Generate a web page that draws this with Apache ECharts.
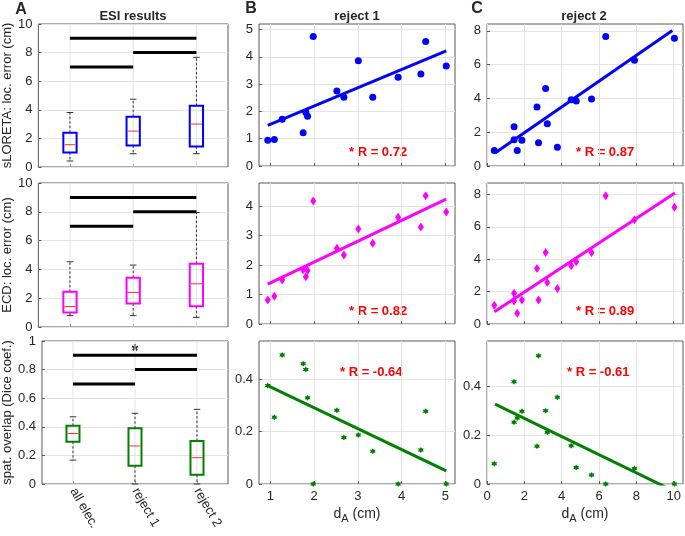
<!DOCTYPE html>
<html><head><meta charset="utf-8">
<script src="https://cdn.jsdelivr.net/npm/echarts@6/dist/echarts.min.js"></script>
<style>html,body{margin:0;padding:0;background:#fff}#c{width:685px;height:536px}</style>
</head><body><div id="c"></div>
<script>
// ---------- data ----------
const categories = ['all elec.', 'reject 1', 'reject 2'];
// box stats: [min, q1, median, q3, max]
const boxSLORETA = [[0.42,1.02,1.56,2.40,3.81],[0.93,1.51,2.51,3.51,4.74],[0.93,1.44,3.00,4.28,7.67]];
const boxECD     = [[0.79,1.00,1.42,2.44,4.53],[0.79,1.63,2.40,3.42,4.30],[0.67,1.44,3.00,4.40,7.95]];
const boxDice    = [[0.167,0.296,0.353,0.407,0.470],[0,0.127,0.266,0.390,0.494],[0,0.064,0.184,0.300,0.522]];
// significance bars: [from category, to category, level]
const sigLoc  = [[0,1,7],[1,2,8],[0,2,9]];
const sigDice = [[0,1,0.7],[1,2,0.8],[0,2,0.9]];

const dA_rej1 = [0.94,1.09,1.27,1.75,1.81,1.85,1.98,2.52,2.68,3.01,3.34,3.92,4.44,4.55,5.02];
const slor_rej1 = [0.94,0.97,1.71,1.22,1.96,1.82,4.74,2.75,2.52,3.85,2.52,3.25,3.37,4.56,3.66];
const ecd_rej1  = [0.81,0.94,1.49,1.84,1.60,1.81,4.17,2.57,2.34,3.22,2.74,3.62,3.29,4.35,3.80];
const dice_rej1 = [0.376,0.255,0.493,0.459,0.437,0.329,0,0.282,0.178,0.187,0.125,0,0.130,0.278,0];

const dA_rej2 = [0.39,1.45,1.45,1.62,1.87,2.68,2.76,3.14,3.23,3.77,4.51,4.78,5.60,6.36,7.90,10.04];
const slor_rej2 = [0.91,2.32,1.56,0.91,1.52,3.49,1.37,4.59,2.50,1.11,3.92,3.84,3.96,7.66,6.26,7.56];
const ecd_rej2  = [1.15,1.89,1.42,0.66,1.48,3.43,1.48,4.41,2.56,2.19,3.59,3.84,4.41,7.92,6.44,7.20];
const dice_rej2 = [0.083,0.418,0.253,0.270,0.298,0.154,0.525,0.300,0.212,0.355,0.156,0.068,0.037,0,0.063,0];

// regression line endpoints [[x1,y1],[x2,y2]]
const fit_slor_rej1 = [[0.94,1.49],[5.02,4.22]];
const fit_ecd_rej1  = [[0.94,1.35],[5.02,4.23]];
const fit_dice_rej1 = [[0.94,0.376],[5.02,0.05]];
const fit_slor_rej2 = [[0.43,0.77],[9.93,8.02]];
const fit_ecd_rej2  = [[0.40,0.76],[10.07,8.08]];
const fit_dice_rej2 = [[0.43,0.327],[10.04,-0.03]];

const rLabels = ['* R = 0.72','* R = 0.82','* R = -0.64','* R = 0.87','* R = 0.89','* R = -0.61'];

// tick values
const ticksLoc = [0,2,4,6,8,10];
const ticksDice = [0,0.2,0.4,0.6,0.8,1];
const ticksB_x = [1,2,3,4,5];
const ticksC_x = [0,2,4,6,8,10];
const ticksB1_y = [0,1,2,3,4,5];
const ticksB2_y = [0,1,2,3,4];
const ticksDiceSc = [0,0.2,0.4];
const ticksC_y = [0,2,4,6,8];

// ---------- styles ----------
const FONT = 'Liberation Sans, Arial, sans-serif';
const AX = '#595959', TXT = '#262626', GRID = '#e3e3e3';
const BLUE = '#0000ff', MAG = '#ff00ff', GREEN = '#008000';

const grids = [
  {left:38, top:24, width:190, height:143},
  {left:38, top:183, width:190, height:144},
  {left:41, top:341, width:187, height:143},
  {left:259, top:24, width:196, height:142},
  {left:259, top:183, width:196, height:141},
  {left:259, top:341, width:196, height:143},
  {left:487, top:24, width:196, height:142},
  {left:487, top:183, width:196, height:141},
  {left:487, top:341, width:196, height:143}
].map(g => Object.assign({show:true, borderColor:AX, borderWidth:1, backgroundColor:'#fff', containLabel:false}, g));

function valAxis(gi, min, max, ticks, showLabels, extra) {
  return Object.assign({
    type:'value', gridIndex:gi, min, max,
    axisLine:{show:false},
    axisTick:{show:true, inside:true, length:3, lineStyle:{color:AX}, customValues:ticks},
    axisLabel:{show:showLabels, color:TXT, fontSize:13, fontFamily:FONT, margin:6, customValues:ticks},
    splitLine:{show:true, lineStyle:{color:GRID, width:1}}
  }, extra||{});
}
function catAxis(gi, showLabels) {
  return {
    type:'category', gridIndex:gi, data:categories, boundaryGap:true,
    axisLine:{show:false},
    axisTick:{show:true, inside:true, length:3, alignWithLabel:true, lineStyle:{color:AX}},
    axisLabel:{show:showLabels, rotate:-60, color:TXT, fontSize:13, fontFamily:FONT, margin:5, interval:0},
    splitLine:{show:false}
  };
}
const dName = {
  name:'{n|d}{s|A}{n| (cm)}', nameLocation:'middle', nameGap:20,
  nameTextStyle:{rich:{n:{fontSize:14, fontFamily:FONT, color:TXT}, s:{fontSize:11, fontFamily:FONT, color:TXT, padding:[9,0,0,0]}}}
};
const yName = (txt, gap) => ({name:txt, nameLocation:'middle', nameGap:gap, nameTextStyle:{fontSize:13, fontFamily:FONT, color:TXT}});

const xAxes = [
  catAxis(0,false), catAxis(1,false), catAxis(2,true),
  valAxis(3,0.74,5.22,ticksB_x,false), valAxis(4,0.74,5.22,ticksB_x,false), valAxis(5,0.74,5.22,ticksB_x,true,dName),
  valAxis(6,0,10.5,ticksC_x,false), valAxis(7,0,10.5,ticksC_x,false), valAxis(8,0,10.5,ticksC_x,true,dName)
];
const yAxes = [
  valAxis(0,0,10,ticksLoc,true,yName('sLORETA: loc. error (cm)',22)),
  valAxis(1,0,10,ticksLoc,true,yName('ECD: loc. error (cm)',22)),
  valAxis(2,0,1,ticksDice,true,yName('spat. overlap (Dice coef.)',27)),
  valAxis(3,0,5.2,ticksB1_y,true), valAxis(4,0,4.78,ticksB2_y,true), valAxis(5,0,0.546,ticksDiceSc,true),
  valAxis(6,0,8.4,ticksC_y,true), valAxis(7,0,8.7,ticksC_y,true), valAxis(8,0,0.585,ticksDiceSc,true)
];

function boxRender(color) {
  return function(params, api) {
    const xi = api.value(0);
    const mn = api.coord([xi, api.value(1)]), q1 = api.coord([xi, api.value(2)]),
          md = api.coord([xi, api.value(3)]), q3 = api.coord([xi, api.value(4)]),
          mx = api.coord([xi, api.value(5)]);
    const bw = api.size([1,0])[0]*0.21, cw = bw*0.5, x = md[0];
    const dash = {stroke:'#000', lineWidth:0.8, lineDash:[2.5,2]};
    return {type:'group', children:[
      {type:'line', shape:{x1:x,y1:q3[1],x2:x,y2:mx[1]}, style:dash},
      {type:'line', shape:{x1:x,y1:q1[1],x2:x,y2:mn[1]}, style:dash},
      {type:'line', shape:{x1:x-cw/2,y1:mx[1],x2:x+cw/2,y2:mx[1]}, style:{stroke:'#333',lineWidth:1}},
      {type:'line', shape:{x1:x-cw/2,y1:mn[1],x2:x+cw/2,y2:mn[1]}, style:{stroke:'#333',lineWidth:1}},
      {type:'rect', shape:{x:x-bw/2,y:q3[1],width:bw,height:q1[1]-q3[1]}, style:{fill:'none',stroke:color,lineWidth:2}},
      {type:'line', shape:{x1:x-bw/2+1,y1:md[1],x2:x+bw/2-1,y2:md[1]}, style:{stroke:'#ff3030',lineWidth:1}}
    ]};
  };
}
// vertical grid lines at category centres
function catGridRender(params, api) {
  const cs = params.coordSys;
  const x = api.coord([api.value(0), 0])[0];
  return {type:'line', shape:{x1:x, y1:cs.y, x2:x, y2:cs.y+cs.height}, style:{stroke:GRID, lineWidth:1}};
}

const series = [];
function addBox(gi, stats, color, sig) {
  series.push({type:'custom', xAxisIndex:gi, yAxisIndex:gi, z:1, silent:true,
    renderItem:catGridRender, encode:{x:0}, data: categories.map((c,i) => [i])});
  series.push({type:'custom', xAxisIndex:gi, yAxisIndex:gi, z:3,
    renderItem:boxRender(color), encode:{x:0, y:[1,2,3,4,5]},
    data: stats.map((s,i) => [i].concat(s))});
  sig.forEach(b => series.push({type:'line', xAxisIndex:gi, yAxisIndex:gi, z:4, symbol:'none', silent:true,
    lineStyle:{color:'#000', width:3}, data:[[categories[b[0]], b[2]],[categories[b[1]], b[2]]]}));
}
addBox(0, boxSLORETA, BLUE, sigLoc);
addBox(1, boxECD, MAG, sigLoc);
addBox(2, boxDice, GREEN, sigDice);

const starPath = 'path://M0,-10 L2.9,-5 L8.66,-5 L5.8,0 L8.66,5 L2.9,5 L0,10 L-2.9,5 L-8.66,5 L-5.8,0 L-8.66,-5 L-2.9,-5 Z';
function addScatter(gi, xs, ys, fit, color, sym, size) {
  series.push({type:'line', xAxisIndex:gi, yAxisIndex:gi, z:3, symbol:'none', silent:true, clip:true,
    lineStyle:{color, width:3}, data:fit});
  series.push({type:'scatter', xAxisIndex:gi, yAxisIndex:gi, z:4, symbol:sym, symbolSize:size, clip:false,
    itemStyle:{color, opacity:1}, data: xs.map((x,i) => [x, ys[i]])});
}
addScatter(3, dA_rej1, slor_rej1, fit_slor_rej1, BLUE, 'circle', 7);
addScatter(4, dA_rej1, ecd_rej1, fit_ecd_rej1, MAG, 'diamond', [6,9]);
addScatter(5, dA_rej1, dice_rej1, fit_dice_rej1, GREEN, starPath, 6);
addScatter(6, dA_rej2, slor_rej2, fit_slor_rej2, BLUE, 'circle', 7);
addScatter(7, dA_rej2, ecd_rej2, fit_ecd_rej2, MAG, 'diamond', [6,9]);
addScatter(8, dA_rej2, dice_rej2, fit_dice_rej2, GREEN, starPath, 6);

const T = (text, x, y, size, opts) => Object.assign({type:'text', x, y, silent:true,
  style:{text, fill:TXT, font:'bold '+size+'px '+FONT, align:'center', verticalAlign:'middle'}}, opts||{});
const rPos = [[349,152],[349,311],[340,372],[576,152],[576,311],[567,372]];
const graphic = [
  T('A', 21, 10, 16), T('B', 251, 9, 16), T('C', 477, 9, 16),
  T('ESI results', 133, 16, 13), T('reject 1', 357, 16.5, 13), T('reject 2', 584, 16.5, 13),
  T('*', 135, 352, 18)
].concat(rLabels.map((t,i) => ({type:'text', x:rPos[i][0], y:rPos[i][1], silent:true,
  style:{text:t, fill:'#ff0000', font:'bold 13px '+FONT, align:'left', verticalAlign:'middle'}})));

const chart = echarts.init(document.getElementById('c'), null, {renderer:'canvas'});
chart.setOption({animation:false, backgroundColor:'#fff', grid:grids, xAxis:xAxes, yAxis:yAxes, series, graphic});
</script></body></html>
